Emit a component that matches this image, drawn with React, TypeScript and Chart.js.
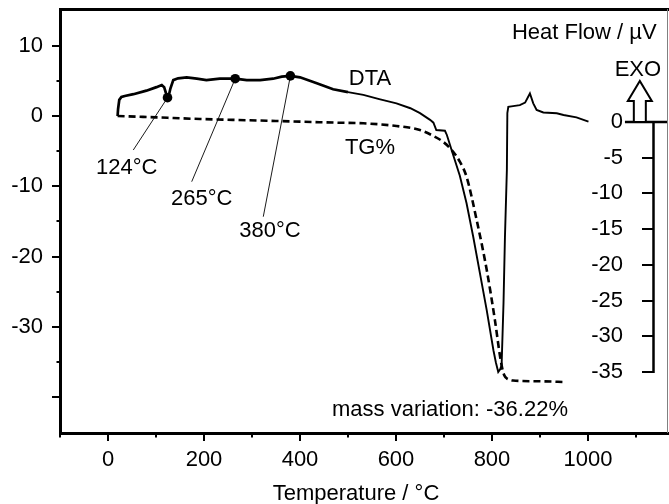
import React, { useEffect, useRef } from 'react';
import { Chart, registerables } from 'chart.js';

Chart.register(...registerables);

// ---------- data ----------
const dtaTemp = [20, 21, 23.5, 28, 35, 53, 80, 101, 112, 117, 121, 124, 127, 130, 136, 146, 164, 185, 205, 233, 265, 289, 317, 344, 362, 380, 400, 435, 469, 500, 532, 565, 601, 630, 650, 671, 678, 684, 702, 706, 719, 733, 747, 761, 789, 803, 808, 813, 817, 820, 824, 827, 831, 832, 834, 844, 858, 869, 879, 886, 893, 907, 935, 949, 976, 1001];
const dtaSignal = [0, 1.0, 2.3, 2.7, 2.85, 3.1, 3.6, 4.1, 4.4, 4.1, 3.2, 2.6, 3.0, 3.9, 5.1, 5.35, 5.5, 5.3, 5.1, 5.3, 5.3, 5.1, 5.1, 5.3, 5.6, 5.7, 5.5, 4.65, 3.8, 3.4, 3.0, 2.4, 1.8, 1.1, 0.4, -0.55, -0.95, -2.0, -2.1, -2.7, -5.5, -8.5, -12.4, -17.2, -27.6, -33.3, -35.0, -36.4, -36.0, -35.5, -26.6, -17.2, -7.7, 0.4, 1.3, 1.4, 1.55, 1.9, 3.2, 1.8, 0.85, 0.5, 0.38, 0.14, -0.19, -0.8];

const tgTemp = [20, 100, 192, 260, 331, 400, 481, 532, 601, 650, 678, 698, 716, 733, 747, 768, 789, 806, 817, 822, 826, 831, 838, 844, 900, 952];
const tgMass = [0.85, 0.65, 0.42, 0.3, 0.18, 0.05, -0.1, -0.18, -0.56, -1.12, -1.96, -2.76, -3.92, -5.56, -7.66, -13.7, -20.7, -27.7, -32.9, -34.7, -35.5, -35.9, -36.1, -36.2, -36.3, -36.4];

const peakTemps = [124, 265, 380];
const peakSignal = [2.6, 5.3, 5.7];
const peakLabels = ['124°C', '265°C', '380°C'];

const xTickValues = [-100, 0, 100, 200, 300, 400, 500, 600, 700, 800, 900, 1000, 1100];
const xTickLabels = [0, 200, 400, 600, 800, 1000];
const yTickValues = [-40, -35, -30, -25, -20, -15, -10, -5, 0, 5, 10];
const yTickLabels = [10, 0, -10, -20, -30];
const tgTickValues = [0, -5, -10, -15, -20, -25, -30, -35];

const massVariationText = 'mass variation: -36.22%';

// ---------- layout of annotations (in data units) ----------
const X_MIN = -100, X_MAX = 1166.7;
const Y_MIN = -45.07, Y_MAX = 15.21;
const TG_MIN = -43.54, TG_MAX = 15.82;
const TG_LABEL_X = 1073;
const TG_AXIS_X = 1134.8;
const leaderEnds = [[52.7, -4.84], [174.4, -9.34], [323.5, -14.32]];
const peakLabelPos = [[39, -7.34], [195.2, -11.8], [337.5, -16.3]];

const FONT = "'Liberation Sans', Arial, Helvetica, sans-serif";
const FS = 22;

const annotationPlugin = {
  id: 'annot',
  afterDatasetsDraw(chart: any) {
    const { ctx, chartArea, scales } = chart;
    const x = scales.x, y = scales.y, y2 = scales.y2;
    const X = (v: number) => x.getPixelForValue(v);
    const Y = (v: number) => y.getPixelForValue(v);
    const Y2 = (v: number) => y2.getPixelForValue(v);
    ctx.save();
    // leader lines
    ctx.strokeStyle = '#000';
    ctx.lineWidth = 0.9;
    for (let i = 0; i < peakTemps.length; i++) {
      ctx.beginPath();
      ctx.moveTo(X(peakTemps[i]), Y(peakSignal[i]));
      ctx.lineTo(X(leaderEnds[i][0]), Y(leaderEnds[i][1]));
      ctx.stroke();
    }
    ctx.fillStyle = '#000';
    ctx.font = `${FS}px ${FONT}`;
    ctx.textBaseline = 'middle';
    ctx.textAlign = 'center';
    for (let i = 0; i < peakLabels.length; i++) {
      ctx.fillText(peakLabels[i], X(peakLabelPos[i][0]), Y(peakLabelPos[i][1]));
    }
    ctx.fillText('DTA', X(545.8), Y(5.26));
    ctx.fillText('TG%', X(545.8), Y(-4.55));
    ctx.fillText(massVariationText, X(712.5), Y(-41.8));
    ctx.fillText('EXO', X(1104), Y(6.54));
    ctx.textAlign = 'right';
    ctx.fillText('Heat Flow / \u00B5V', X(1143), Y(11.8));

    // TG axis spine
    const ax = Math.round(X(TG_AXIS_X)) + 0.5;
    ctx.lineWidth = 2.5;
    ctx.beginPath();
    ctx.moveTo(ax, Y2(0));
    ctx.lineTo(ax, Y2(-35) + 1);
    ctx.stroke();
    ctx.beginPath();
    ctx.moveTo(X(1077), Y2(0));
    ctx.lineTo(chartArea.right, Y2(0));
    ctx.stroke();

    // EXO arrow
    const cx = X(1108);
    const base = Y2(0);
    ctx.lineWidth = 2;
    ctx.fillStyle = '#fff';
    ctx.beginPath();
    ctx.moveTo(cx - 6, base);
    ctx.lineTo(cx - 6, base - 21);
    ctx.lineTo(cx - 12, base - 21);
    ctx.lineTo(cx, base - 41);
    ctx.lineTo(cx + 12, base - 21);
    ctx.lineTo(cx + 6, base - 21);
    ctx.lineTo(cx + 6, base);
    ctx.closePath();
    ctx.fill();
    ctx.stroke();
    ctx.restore();
  },
  afterDraw(chart: any) {
    const { ctx, chartArea, scales } = chart;
    ctx.save();
    // top frame line
    ctx.strokeStyle = '#000';
    ctx.lineWidth = 3;
    ctx.beginPath();
    ctx.moveTo(chartArea.left - 1, chartArea.top + 0.5);
    ctx.lineTo(chartArea.right + 1, chartArea.top + 0.5);
    ctx.stroke();
    // right frame line
    ctx.strokeStyle = '#808080';
    ctx.lineWidth = 1;
    ctx.beginPath();
    ctx.moveTo(chartArea.right - 0.5, chartArea.top);
    ctx.lineTo(chartArea.right - 0.5, chartArea.bottom);
    ctx.stroke();
    // x axis title
    ctx.fillStyle = '#000';
    ctx.font = `${FS}px ${FONT}`;
    ctx.textAlign = 'center';
    ctx.textBaseline = 'middle';
    ctx.fillText('Temperature / \u00B0C', scales.x.getPixelForValue(516.7), chartArea.bottom + 61);
    ctx.restore();
  },
};

export default function App() {
  const ref = useRef<HTMLCanvasElement>(null);
  useEffect(() => {
    const canvas = ref.current!;
    Chart.defaults.font.family = FONT;
    Chart.defaults.font.size = FS;
    Chart.defaults.color = '#000';
    const chart = new Chart(canvas, {
      type: 'line',
      data: {
        datasets: [
          {
            label: 'DTA',
            data: dtaTemp.map((t, i) => ({ x: t, y: dtaSignal[i] })),
            borderColor: '#000',
            borderWidth: 2,
            pointRadius: 0,
            tension: 0,
            yAxisID: 'y',
            segment: { borderWidth: (c: any) => (c.p0.parsed.x < 470 ? 2.7 : 1.9) },
          },
          {
            label: 'TG%',
            data: tgTemp.map((t, i) => ({ x: t, y: tgMass[i] })),
            borderColor: '#000',
            borderWidth: 2.6,
            borderDash: [7, 4],
            pointRadius: 0,
            cubicInterpolationMode: 'monotone',
            yAxisID: 'y2',
          },
          {
            label: 'peaks',
            data: peakTemps.map((t, i) => ({ x: t, y: peakSignal[i] })),
            showLine: false,
            pointRadius: 4.8,
            pointBackgroundColor: '#000',
            pointBorderColor: '#000',
            pointBorderWidth: 0,
            yAxisID: 'y',
          },
        ],
      } as any,
      options: {
        responsive: false,
        animation: false,
        devicePixelRatio: 1,
        layout: { padding: { top: 9, right: 1, left: 0, bottom: 0 }, autoPadding: false },
        plugins: { legend: { display: false }, tooltip: { enabled: false } },
        scales: {
          x: {
            type: 'linear',
            position: 'bottom',
            min: X_MIN,
            max: X_MAX,
            afterBuildTicks: (s: any) => { s.ticks = xTickValues.map((v) => ({ value: v })); },
            afterFit: (s: any) => { s.height = 71; s.paddingLeft = 0; s.paddingRight = 0; },
            ticks: {
              autoSkip: false,
              maxRotation: 0,
              padding: 6,
              color: '#000',
              callback: (v: any) => (xTickLabels.includes(Number(v)) ? String(v) : ''),
            },
            grid: {
              drawOnChartArea: false,
              drawTicks: true,
              tickLength: 8,
              lineWidth: 2,
              color: '#000',
              tickBorderDash: (c: any) => (c.tick && xTickLabels.includes(c.tick.value) ? [] : [2.5, 100]),
            },
            border: { display: true, width: 3, color: '#000' },
          },
          y: {
            position: 'left',
            min: Y_MIN,
            max: Y_MAX,
            afterBuildTicks: (s: any) => { s.ticks = yTickValues.map((v) => ({ value: v })); },
            afterFit: (s: any) => { s.width = 60; s.paddingTop = 0; s.paddingBottom = 0; },
            ticks: {
              autoSkip: false,
              padding: 9,
              color: '#000',
              callback: (v: any) => (yTickLabels.includes(Number(v)) ? String(v) : ''),
            },
            grid: {
              drawOnChartArea: false,
              drawTicks: true,
              tickLength: 8,
              lineWidth: 2,
              color: '#000',
              tickBorderDash: (c: any) => (c.tick && c.tick.value % 10 === 0 ? [] : [0, 4.5, 10, 0]),
            },
            border: { display: true, width: 3, color: '#000' },
          },
          y2: {
            position: { x: TG_LABEL_X },
            min: TG_MIN,
            max: TG_MAX,
            afterBuildTicks: (s: any) => { s.ticks = tgTickValues.map((v) => ({ value: v })); },
            afterFit: (s: any) => { s.paddingTop = 0; s.paddingBottom = 0; },
            ticks: { autoSkip: false, color: '#000', callback: (v: any) => String(v) },
            grid: { display: false },
            border: { display: false },
          },
          y3: {
            position: { x: TG_AXIS_X },
            min: TG_MIN,
            max: TG_MAX,
            afterBuildTicks: (s: any) => { s.ticks = tgTickValues.map((v) => ({ value: v })); },
            afterFit: (s: any) => { s.paddingTop = 0; s.paddingBottom = 0; },
            ticks: { display: false },
            grid: { drawOnChartArea: false, drawTicks: true, tickLength: 11, lineWidth: 2, color: '#000' },
            border: { display: false },
          },
        },
      } as any,
      plugins: [annotationPlugin],
    });
    return () => chart.destroy();
  }, []);
  return (
    <div style={{ position: 'absolute', left: 0, top: 0, width: 669, height: 504, background: '#fff' }}>
      <canvas ref={ref} width={669} height={504} style={{ display: 'block', width: 669, height: 504 }} />
    </div>
  );
}
